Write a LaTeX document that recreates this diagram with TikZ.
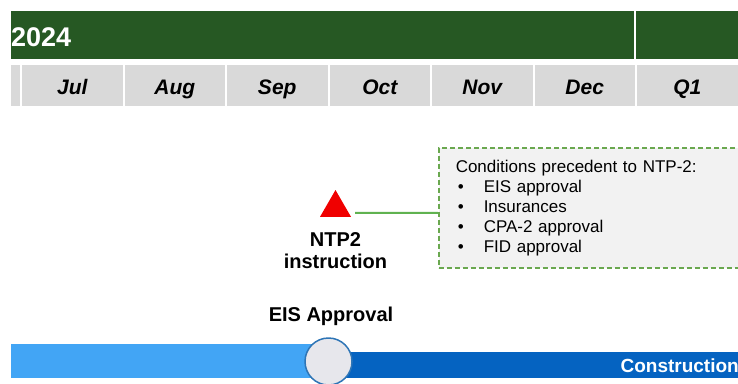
\documentclass[tikz,border=0pt]{standalone}
\usepackage{fontspec}
\setmainfont{Liberation Sans}
\usetikzlibrary{shapes.geometric,positioning}
\definecolor{hdrgreen}{RGB}{38,88,35}
\definecolor{cellgrey}{RGB}{217,217,217}
\definecolor{ntpred}{RGB}{240,0,0}
\definecolor{linkgreen}{RGB}{96,178,80}
\definecolor{dashgreen}{RGB}{106,168,79}
\definecolor{boxgrey}{RGB}{242,242,242}
\definecolor{barlight}{RGB}{66,165,245}
\definecolor{bardark}{RGB}{5,99,193}
\definecolor{dotblue}{RGB}{46,117,182}
\definecolor{dotgrey}{RGB}{231,231,236}

\begin{document}
\begin{tikzpicture}[x=1pt,y=-1pt,every node/.style={inner sep=0pt},
      month/.style={fill=cellgrey,minimum width=100.5pt,minimum height=41pt,
        text height=17pt,text depth=0pt,
        font=\fontsize{21}{21}\selectfont\bfseries\itshape},
      lbl/.style={align=center,font=\fontsize{20}{22.5}\selectfont\bfseries},
      condbox/.style={draw=dashgreen,fill=boxgrey,line width=1.5pt,
        dash pattern=on 5pt off 3pt,anchor=north west,inner xsep=17pt,
        minimum width=320pt,minimum height=120pt,text width=286pt,align=left,
        font=\fontsize{17}{20}\selectfont},
      link/.style={linkgreen,line width=2pt}]
      \clip(0,0)rectangle(738,383);
      % header rows
      \fill[hdrgreen](11,11)rectangle(738,59);
      \draw[white,line width=1.5pt](635,11)--(635,59);
      \node[anchor=west,text=white,font=\fontsize{27}{27}\selectfont\bfseries]
        (year) at (11,37){2024};
      \fill[cellgrey](11,65)rectangle(20,106);
      \foreach \m [count=\i from 0] in {Jul,Aug,Sep,Oct,Nov,Dec,Q1}
        \node[month](m\i) at (72.25+102.5*\i,85.5){\m};
      % NTP2 milestone
      \node[regular polygon,regular polygon sides=3,fill=ntpred,
        minimum size=35.8pt](ntp) at (335.5,207.9){};
      \node[lbl,below=15pt of ntp](ntplbl){NTP2\\instruction};
      \node[condbox](cond) at (438,147){Conditions precedent to NTP-2:\\
        \hspace*{2pt}\makebox[26pt][l]{\textbullet}EIS approval\\
        \hspace*{2pt}\makebox[26pt][l]{\textbullet}Insurances\\
        \hspace*{2pt}\makebox[26pt][l]{\textbullet}CPA-2 approval\\
        \hspace*{2pt}\makebox[26pt][l]{\textbullet}FID approval};
      \draw[link]([xshift=19.5pt,yshift=-4.9pt]ntp.center)--([yshift=-5pt]cond.west);
      % bottom bar
      \fill[barlight](11,344)rectangle(329,378);
      \fill[bardark](329,352)rectangle(738,378);
      \node[circle,draw=dotblue,fill=dotgrey,line width=1.5pt,minimum size=47pt]
        (eisdot) at (328.5,361.5){};
      \node[lbl](eis) at (331,316){EIS Approval};
      \node[anchor=east,text=white,font=\fontsize{19}{19}\selectfont\bfseries]
        (constr) at (739,366){Construction};
    \end{tikzpicture}
\end{document}
